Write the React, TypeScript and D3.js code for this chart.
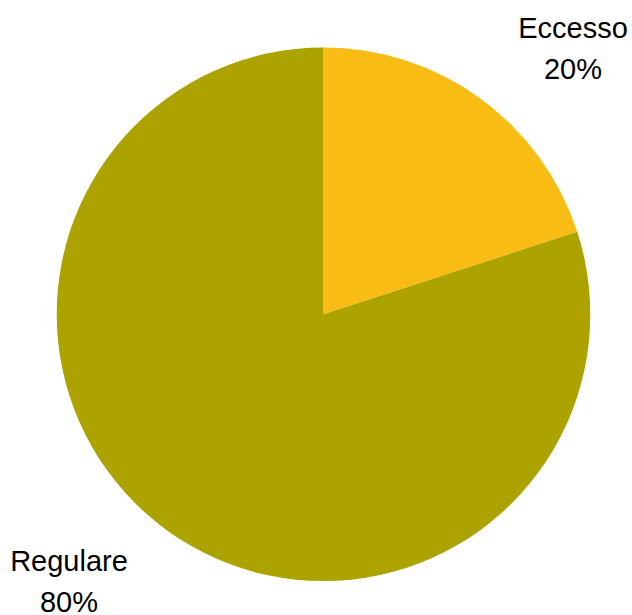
import React from "react";
import * as d3 from "d3";

const categories = ["Eccesso", "Regulare"];
const values = [20, 80];
const colors = ["#F9BC15", "#ADA300"];

export default function App() {
  const width = 632, height = 615;
  const cx = 323.5, cy = 314.3, r = 266.8;
  const pie = d3.pie<number>().sort(null).value((d) => d);
  const arcs = pie(values);
  const arc = d3.arc<d3.PieArcDatum<number>>().innerRadius(0).outerRadius(r);
  const total = d3.sum(values);
  const labelPos = [
    { x: 573, y: 37.7 },
    { x: 69, y: 570.7 },
  ];
  return (
    <svg width={width} height={height} style={{ position: "absolute", left: 0, top: 0 }}>
      <g transform={`translate(${cx},${cy})`}>
        {arcs.map((a, i) => (
          <path key={i} d={arc(a) || ""} fill={colors[i]} />
        ))}
      </g>
      {categories.map((c, i) => (
        <text
          key={c}
          x={labelPos[i].x}
          y={labelPos[i].y}
          textAnchor="middle"
          fontFamily="'Liberation Sans', Arial, sans-serif"
          fontSize={29}
          fill="#000"
        >
          <tspan x={labelPos[i].x}>{c}</tspan>
          <tspan x={labelPos[i].x} dy={41}>
            {d3.format(".0%")(values[i] / total)}
          </tspan>
        </text>
      ))}
    </svg>
  );
}
